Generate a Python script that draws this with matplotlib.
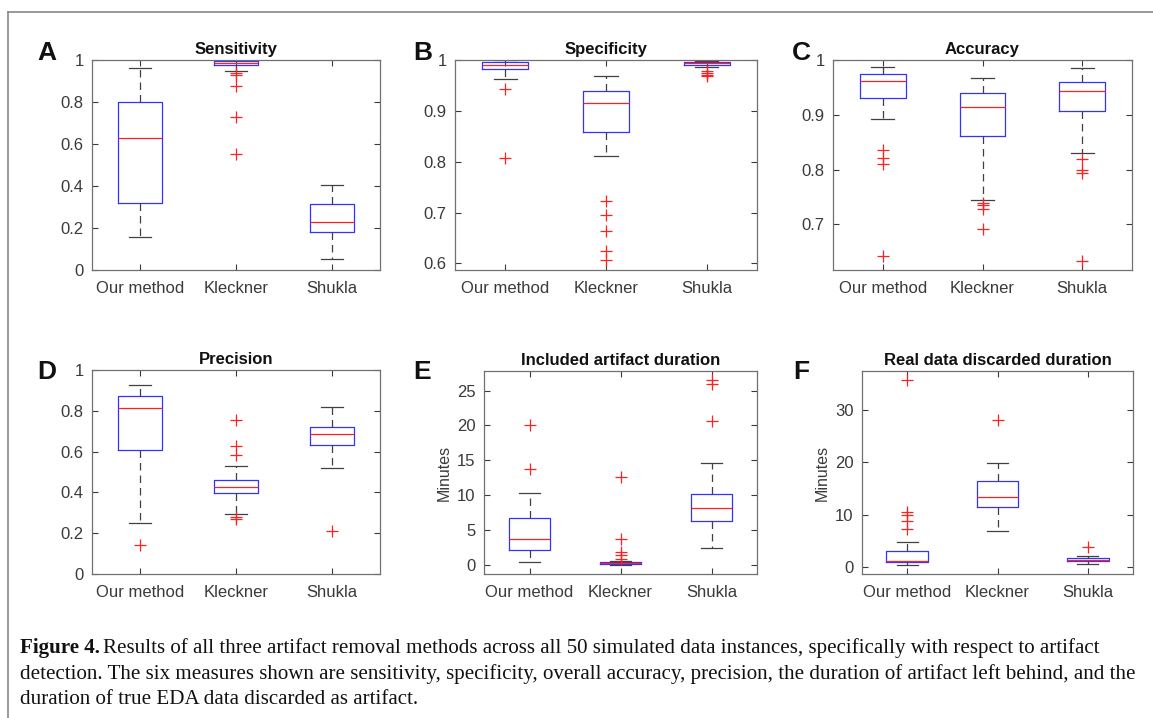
import matplotlib.pyplot as plt
from matplotlib.lines import Line2D

# group names
methods = ['Our method', 'Kleckner', 'Shukla']

# A - Sensitivity
sens_lo = [0.156, 0.948, 0.054]
sens_q1 = [0.317, 0.975, 0.179]
sens_med = [0.627, 0.987, 0.230]
sens_q3 = [0.802, 0.995, 0.314]
sens_hi = [0.963, 1.0, 0.403]
sens_out = [[], [0.938, 0.930, 0.878, 0.727, 0.551], []]

# B - Specificity
spec_lo = [0.962, 0.811, 0.986]
spec_q1 = [0.982, 0.859, 0.991]
spec_med = [0.990, 0.916, 0.994]
spec_q3 = [0.996, 0.939, 0.997]
spec_hi = [1.0, 0.968, 0.999]
spec_out = [[0.942, 0.807], [0.723, 0.696, 0.664, 0.625, 0.606], [0.979, 0.974, 0.970, 0.968]]

# C - Accuracy
acc_lo = [0.893, 0.745, 0.831]
acc_q1 = [0.930, 0.861, 0.907]
acc_med = [0.961, 0.915, 0.944]
acc_q3 = [0.975, 0.939, 0.960]
acc_hi = [0.988, 0.968, 0.985]
acc_out = [[0.836, 0.821, 0.811, 0.643], [0.740, 0.735, 0.729, 0.692], [0.819, 0.800, 0.794, 0.634]]

# D - Precision
prec_lo = [0.249, 0.292, 0.518]
prec_q1 = [0.608, 0.395, 0.631]
prec_med = [0.815, 0.426, 0.684]
prec_q3 = [0.872, 0.462, 0.720]
prec_hi = [0.928, 0.528, 0.820]
prec_out = [[0.141], [0.756, 0.628, 0.585, 0.280, 0.268], [0.213]]

# E - Included artifact duration (minutes)
inc_lo = [0.38, 0.0, 2.48]
inc_q1 = [2.14, 0.12, 6.29]
inc_med = [3.76, 0.22, 8.19]
inc_q3 = [6.67, 0.38, 10.19]
inc_hi = [10.24, 0.6, 14.67]
inc_out = [[20.05, 13.8], [12.6, 3.67, 1.8, 1.4, 0.9], [26.5, 25.95, 20.6]]

# F - Real data discarded duration (minutes)
disc_lo = [0.32, 6.8, 0.45]
disc_q1 = [0.83, 11.5, 1.0]
disc_med = [1.15, 13.4, 1.27]
disc_q3 = [3.06, 16.4, 1.6]
disc_hi = [4.71, 19.9, 2.0]
disc_out = [[35.8, 10.45, 9.9, 8.7, 7.2], [28.1], [3.7]]

panels = [
    ('A', 'Sensitivity', sens_lo, sens_q1, sens_med, sens_q3, sens_hi, sens_out,
     (0, 1), [0, 0.2, 0.4, 0.6, 0.8, 1], ['0', '0.2', '0.4', '0.6', '0.8', '1'], None),
    ('B', 'Specificity', spec_lo, spec_q1, spec_med, spec_q3, spec_hi, spec_out,
     (0.587, 1), [0.6, 0.7, 0.8, 0.9, 1], ['0.6', '0.7', '0.8', '0.9', '1'], None),
    ('C', 'Accuracy', acc_lo, acc_q1, acc_med, acc_q3, acc_hi, acc_out,
     (0.617, 1), [0.7, 0.8, 0.9, 1], ['0.7', '0.8', '0.9', '1'], None),
    ('D', 'Precision', prec_lo, prec_q1, prec_med, prec_q3, prec_hi, prec_out,
     (0, 1), [0, 0.2, 0.4, 0.6, 0.8, 1], ['0', '0.2', '0.4', '0.6', '0.8', '1'], None),
    ('E', 'Included artifact duration', inc_lo, inc_q1, inc_med, inc_q3, inc_hi, inc_out,
     (-1.3, 27.8), [0, 5, 10, 15, 20, 25], ['0', '5', '10', '15', '20', '25'], 'Minutes'),
    ('F', 'Real data discarded duration', disc_lo, disc_q1, disc_med, disc_q3, disc_hi, disc_out,
     (-1.4, 37.5), [0, 10, 20, 30], ['0', '10', '20', '30'], 'Minutes'),
]

# axes boxes in pixels: left, right, top, bottom
boxes_px = [(92, 380, 60, 270), (455, 757, 60, 270), (833, 1132, 60, 270),
            (92, 380, 370, 574), (484, 757, 371, 574), (862, 1133, 371, 574)]
# panel letter positions (left x, centre y) in pixels
letters_px = [(37, 53), (413, 53), (792, 53), (37, 372), (413, 372), (793, 372)]

W, H = 1153, 718
plt.rcParams['font.family'] = ['Liberation Sans', 'DejaVu Sans']
fig = plt.figure(figsize=(W / 100, H / 100), dpi=100)

ax_col = '#3a3a3a'
for (letter, title, lo, q1, med, q3, hi, out, ylim, yt, ytl, ylab), (l, r, t, b), (lx, ly) in zip(panels, boxes_px, letters_px):
    ax = fig.add_axes([l / W, 1 - b / H, (r - l) / W, (b - t) / H])
    stats = []
    for i in range(3):
        stats.append(dict(med=med[i], q1=q1[i], q3=q3[i], whislo=lo[i], whishi=hi[i],
                          fliers=out[i], label=methods[i]))
    ax.bxp(stats, positions=[1, 2, 3], widths=0.46, showfliers=True,
           boxprops=dict(color='#3333ff', lw=0.9),
           medianprops=dict(color='#ff2020', lw=0.9),
           whiskerprops=dict(color='#404040', lw=0.9, linestyle=(0, (6, 4))),
           capprops=dict(color='#404040', lw=0.9),
           flierprops=dict(marker='+', markeredgecolor='#ff2020', markersize=8,
                           markeredgewidth=0.9, linestyle='none'))
    ax.set_xlim(0.5, 3.5)
    ax.set_ylim(*ylim)
    ax.set_yticks(yt)
    ax.set_yticklabels(ytl)
    ax.set_xticks([1, 2, 3])
    ax.set_xticklabels(methods)
    ax.tick_params(direction='in', length=4, width=0.8, top=True, right=True,
                   labelsize=12, colors=ax_col)
    ax.tick_params(axis='x', pad=8)
    ax.tick_params(axis='y', pad=6)
    for s in ax.spines.values():
        s.set_color('#707070')
        s.set_linewidth(0.9)
    ax.set_title(title, fontsize=12, fontweight='bold', color='#111111', pad=4)
    if ylab:
        ax.set_ylabel(ylab, fontsize=11.5, color=ax_col, labelpad=4)
    fig.text(lx / W, 1 - ly / H, letter, fontsize=19, fontweight='bold',
             ha='left', va='center', color='#111111')

# frame around figure (top and left)
fig.add_artist(Line2D([8 / W, 1], [1 - 12 / H, 1 - 12 / H], color='#888888', lw=1.2))
fig.add_artist(Line2D([8 / W, 8 / W], [0, 1 - 12 / H], color='#888888', lw=1.2))

# caption
cap_size = 15.1
cap_x = 20 / W
head = fig.text(cap_x, 1 - 648 / H, 'Figure 4.', fontsize=cap_size, fontweight='bold',
                family='Liberation Serif', ha='left', va='center', color='#111111')
renderer = fig.canvas.get_renderer()
hw = head.get_window_extent(renderer).width
fig.text(cap_x + (hw + 3) / W, 1 - 648 / H,
         'Results of all three artifact removal methods across all 50 simulated data instances, '
         'specifically with respect to artifact',
         fontsize=cap_size, family='Liberation Serif', ha='left', va='center', color='#111111')
fig.text(cap_x, 1 - 674 / H,
         'detection. The six measures shown are sensitivity, specificity, overall accuracy, precision, '
         'the duration of artifact left behind, and the',
         fontsize=cap_size, family='Liberation Serif', ha='left', va='center', color='#111111')
fig.text(cap_x, 1 - 700 / H, 'duration of true EDA data discarded as artifact.',
         fontsize=cap_size, family='Liberation Serif', ha='left', va='center', color='#111111')

fig.savefig('out.png', dpi=100)
